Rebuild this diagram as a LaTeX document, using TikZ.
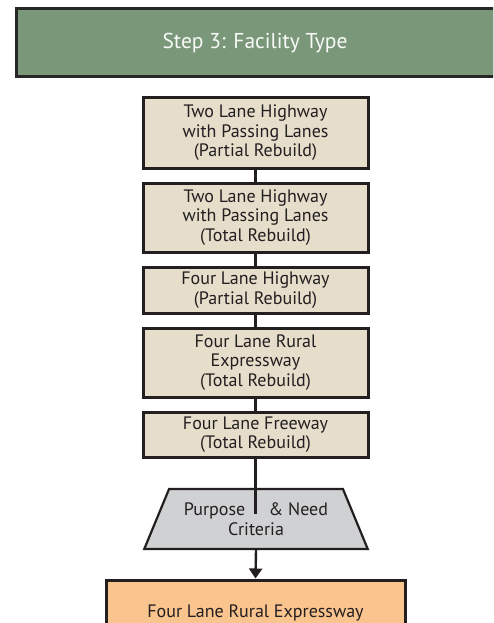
\documentclass[tikz,border=0pt]{standalone}
\usepackage{fontspec}
\setmainfont{PT Sans}
\usetikzlibrary{shapes.geometric,arrows.meta}
\definecolor{hdrgreen}{HTML}{7A977A}
\definecolor{boxbeige}{HTML}{E6DDCB}
\definecolor{trapgray}{HTML}{D0D1D3}
\definecolor{resorange}{HTML}{F9C48E}
\definecolor{inkdark}{HTML}{231F20}
\tikzset{
  stepbox/.style={draw=inkdark, line width=3pt, fill=boxbeige, minimum width=225pt,
    align=center, font=\fontsize{18}{19.5}\selectfont, text=inkdark, inner sep=0pt},
  hdrbox/.style={draw=black!85, line width=3pt, fill=hdrgreen, minimum width=478pt,
    minimum height=68pt, font=\fontsize{21.5}{24}\selectfont, text=white!95!hdrgreen},
  critbox/.style={trapezium, draw=inkdark, line width=2.2pt, fill=trapgray,
    trapezium stretches=true, minimum width=224pt, minimum height=60pt,
    trapezium left angle=57.7, trapezium right angle=57.7,
    align=center, font=\fontsize{18}{19.5}\selectfont, text=inkdark, inner sep=0pt},
  resbox/.style={draw=inkdark, line width=3pt, fill=resorange, minimum width=299pt,
    minimum height=66pt, font=\fontsize{18}{19.5}\selectfont, text=inkdark},
  link/.style={draw=inkdark, line width=2.4pt},
}
\begin{document}
\begin{tikzpicture}[x=1pt,y=-1pt]
\useasboundingbox (0,0) rectangle (493,623);
\clip (0,0) rectangle (493,623);
\node[hdrbox] (hdr) at (255,43) {Step 3: Facility Type};
\node[stepbox, minimum height=70pt] (b1) at (255.5,133) {Two Lane Highway\\with Passing Lanes\\(Partial Rebuild)};
\node[stepbox, minimum height=69pt] (b2) at (255.5,217.5) {Two Lane Highway\\with Passing Lanes\\(Total Rebuild)};
\node[stepbox, minimum height=46pt] (b3) at (255.5,290) {Four Lane Highway\\(Partial Rebuild)};
\node[stepbox, minimum height=69pt] (b4) at (255.5,362.5) {Four Lane Rural\\Expressway\\(Total Rebuild)};
\node[stepbox, minimum height=45pt] (b5) at (255.5,434.5) {Four Lane Freeway\\(Total Rebuild)};
\node[critbox] (crit) at (256,519) {Purpose\hspace{1.3em}\& Need\\Criteria};
\node[resbox] (res) at (255.5,613) {Four Lane Rural Expressway};
\coordinate (critin) at (255.5,514);
\draw[link] (b1.south) -- (b2.north);
\draw[link] (b2.south) -- (b3.north);
\draw[link] (b3.south) -- (b4.north);
\draw[link] (b4.south) -- (b5.north);
\draw[link] (b5.south) -- (critin);
\draw[link, -{Triangle[length=10pt,width=13pt]}] (crit.bottom side) -- (res.north);
\end{tikzpicture}
\end{document}
